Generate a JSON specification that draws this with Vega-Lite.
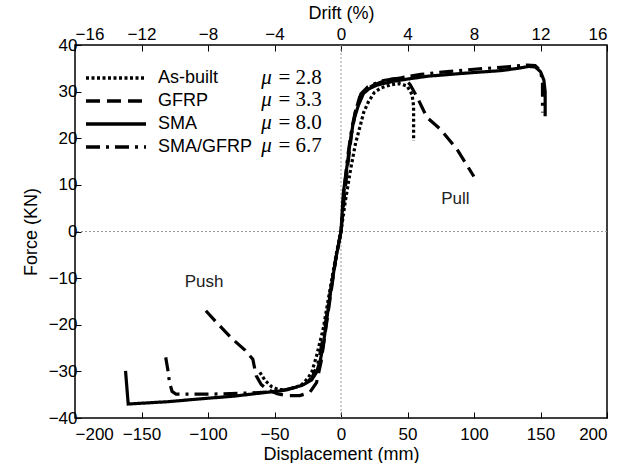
{
  "$schema": "https://vega.github.io/schema/vega-lite/v6.json",
  "width": 532,
  "height": 373,
  "autosize": {"type": "none"},
  "padding": {"left": 75, "top": 45, "right": 19, "bottom": 45},
  "background": "white",
  "config": {
    "font": "Liberation Sans",
    "view": {"stroke": "black", "strokeWidth": 1.5},
    "axis": {
      "grid": false,
      "domain": false,
      "tickColor": "black",
      "tickSize": -6,
      "tickWidth": 1,
      "labelFont": "Liberation Sans",
      "labelFontSize": 17,
      "labelColor": "black",
      "titleFont": "Liberation Sans",
      "titleFontSize": 18,
      "titleFontWeight": "normal",
      "titleColor": "black"
    },
    "legend": {
      "orient": "none",
      "legendX": 32,
      "legendY": 24,
      "title": null,
      "symbolType": "M-5,0H5",
      "symbolSize": 144,
      "symbolStrokeWidth": 3.5,
      "symbolStrokeColor": "black",
      "labelFont": "Liberation Sans",
      "labelFontSize": 18,
      "labelColor": "black",
      "labelOffset": 33,
      "rowPadding": 5,
      "padding": 0
    }
  },
  "datasets": {
    "curves": [
      {"s": "SMA", "i": 1, "d": -162, "f": -29.9},
      {"s": "SMA", "i": 2, "d": -160, "f": -37.0},
      {"s": "SMA", "i": 3, "d": -130, "f": -36.5},
      {"s": "SMA", "i": 4, "d": -106, "f": -35.9},
      {"s": "SMA", "i": 5, "d": -80, "f": -35.3},
      {"s": "SMA", "i": 6, "d": -56, "f": -34.5},
      {"s": "SMA", "i": 7, "d": -46, "f": -34.2},
      {"s": "SMA", "i": 8, "d": -35, "f": -33.5},
      {"s": "SMA", "i": 9, "d": -28.5, "f": -32.9},
      {"s": "SMA", "i": 10, "d": -22, "f": -31.8},
      {"s": "SMA", "i": 11, "d": -18.4, "f": -30.2},
      {"s": "SMA", "i": 12, "d": -15.5, "f": -27.5},
      {"s": "SMA", "i": 13, "d": -13.4, "f": -24.5},
      {"s": "SMA", "i": 14, "d": -8.3, "f": -13.8},
      {"s": "SMA", "i": 15, "d": -4, "f": -6},
      {"s": "SMA", "i": 16, "d": 0, "f": 0},
      {"s": "SMA", "i": 17, "d": 1.8, "f": 8.4},
      {"s": "SMA", "i": 18, "d": 4.5, "f": 14},
      {"s": "SMA", "i": 19, "d": 6.8, "f": 19},
      {"s": "SMA", "i": 20, "d": 9, "f": 23},
      {"s": "SMA", "i": 21, "d": 10.6, "f": 24.8},
      {"s": "SMA", "i": 22, "d": 13, "f": 27},
      {"s": "SMA", "i": 23, "d": 16.9, "f": 29.6},
      {"s": "SMA", "i": 24, "d": 21, "f": 30.6},
      {"s": "SMA", "i": 25, "d": 27, "f": 31.4},
      {"s": "SMA", "i": 26, "d": 39, "f": 32.2},
      {"s": "SMA", "i": 27, "d": 50, "f": 32.7},
      {"s": "SMA", "i": 28, "d": 65, "f": 33.3},
      {"s": "SMA", "i": 29, "d": 82, "f": 33.7},
      {"s": "SMA", "i": 30, "d": 100, "f": 34.1},
      {"s": "SMA", "i": 31, "d": 120, "f": 34.5},
      {"s": "SMA", "i": 32, "d": 133, "f": 35.0},
      {"s": "SMA", "i": 33, "d": 141, "f": 35.4},
      {"s": "SMA", "i": 34, "d": 146, "f": 35.3},
      {"s": "SMA", "i": 35, "d": 150, "f": 34.3},
      {"s": "SMA", "i": 36, "d": 152.5, "f": 32.5},
      {"s": "SMA", "i": 37, "d": 153.5, "f": 30},
      {"s": "SMA", "i": 38, "d": 153.5, "f": 24.7},

      {"s": "SMA/GFRP", "i": 1, "d": -131.8, "f": -27},
      {"s": "SMA/GFRP", "i": 2, "d": -130, "f": -30},
      {"s": "SMA/GFRP", "i": 3, "d": -129, "f": -32.3},
      {"s": "SMA/GFRP", "i": 4, "d": -127, "f": -34.3},
      {"s": "SMA/GFRP", "i": 5, "d": -124, "f": -34.9},
      {"s": "SMA/GFRP", "i": 6, "d": -100, "f": -34.9},
      {"s": "SMA/GFRP", "i": 7, "d": -75, "f": -34.7},
      {"s": "SMA/GFRP", "i": 8, "d": -51, "f": -34.4},
      {"s": "SMA/GFRP", "i": 9, "d": -40, "f": -33.9},
      {"s": "SMA/GFRP", "i": 10, "d": -30, "f": -33},
      {"s": "SMA/GFRP", "i": 11, "d": -22, "f": -31.5},
      {"s": "SMA/GFRP", "i": 12, "d": -17, "f": -28},
      {"s": "SMA/GFRP", "i": 13, "d": -13, "f": -22},
      {"s": "SMA/GFRP", "i": 14, "d": -8, "f": -13},
      {"s": "SMA/GFRP", "i": 15, "d": -4, "f": -6},
      {"s": "SMA/GFRP", "i": 16, "d": 0, "f": 0},
      {"s": "SMA/GFRP", "i": 17, "d": 2, "f": 8},
      {"s": "SMA/GFRP", "i": 18, "d": 5, "f": 16},
      {"s": "SMA/GFRP", "i": 19, "d": 8, "f": 22},
      {"s": "SMA/GFRP", "i": 20, "d": 11, "f": 26},
      {"s": "SMA/GFRP", "i": 21, "d": 15, "f": 29.5},
      {"s": "SMA/GFRP", "i": 22, "d": 20, "f": 31},
      {"s": "SMA/GFRP", "i": 23, "d": 30, "f": 32.3},
      {"s": "SMA/GFRP", "i": 24, "d": 45, "f": 33.0},
      {"s": "SMA/GFRP", "i": 25, "d": 60, "f": 33.7},
      {"s": "SMA/GFRP", "i": 26, "d": 80, "f": 34.3},
      {"s": "SMA/GFRP", "i": 27, "d": 100, "f": 34.8},
      {"s": "SMA/GFRP", "i": 28, "d": 120, "f": 35.2},
      {"s": "SMA/GFRP", "i": 29, "d": 140, "f": 35.7},
      {"s": "SMA/GFRP", "i": 30, "d": 146, "f": 35.6},
      {"s": "SMA/GFRP", "i": 31, "d": 150, "f": 34.5},
      {"s": "SMA/GFRP", "i": 32, "d": 151.5, "f": 32},
      {"s": "SMA/GFRP", "i": 33, "d": 151.5, "f": 28},
      {"s": "SMA/GFRP", "i": 34, "d": 151.5, "f": 25.5},

      {"s": "As-built", "i": 1, "d": -61, "f": -30.2},
      {"s": "As-built", "i": 2, "d": -57, "f": -32},
      {"s": "As-built", "i": 3, "d": -52, "f": -33.3},
      {"s": "As-built", "i": 4, "d": -47, "f": -33.9},
      {"s": "As-built", "i": 5, "d": -40, "f": -33.9},
      {"s": "As-built", "i": 6, "d": -30, "f": -33.0},
      {"s": "As-built", "i": 7, "d": -25, "f": -31.5},
      {"s": "As-built", "i": 8, "d": -22, "f": -30.2},
      {"s": "As-built", "i": 9, "d": -18.4, "f": -26.7},
      {"s": "As-built", "i": 10, "d": -13.4, "f": -20.9},
      {"s": "As-built", "i": 11, "d": -8, "f": -12},
      {"s": "As-built", "i": 12, "d": -3, "f": -4},
      {"s": "As-built", "i": 13, "d": 0, "f": 0},
      {"s": "As-built", "i": 14, "d": 3, "f": 6},
      {"s": "As-built", "i": 15, "d": 7, "f": 13},
      {"s": "As-built", "i": 16, "d": 11, "f": 19},
      {"s": "As-built", "i": 17, "d": 14.4, "f": 22.6},
      {"s": "As-built", "i": 18, "d": 17, "f": 25.5},
      {"s": "As-built", "i": 19, "d": 20.4, "f": 27.7},
      {"s": "As-built", "i": 20, "d": 25, "f": 29.8},
      {"s": "As-built", "i": 21, "d": 30, "f": 30.8},
      {"s": "As-built", "i": 22, "d": 38, "f": 31.5},
      {"s": "As-built", "i": 23, "d": 44, "f": 31.7},
      {"s": "As-built", "i": 24, "d": 49.7, "f": 31.2},
      {"s": "As-built", "i": 25, "d": 53.4, "f": 29.4},
      {"s": "As-built", "i": 26, "d": 54.6, "f": 26.9},
      {"s": "As-built", "i": 27, "d": 54.6, "f": 19.4},

      {"s": "GFRP", "i": 1, "d": -101.6, "f": -17},
      {"s": "GFRP", "i": 2, "d": -92, "f": -20},
      {"s": "GFRP", "i": 3, "d": -81.5, "f": -23.1},
      {"s": "GFRP", "i": 4, "d": -72, "f": -25.5},
      {"s": "GFRP", "i": 5, "d": -66.3, "f": -27.4},
      {"s": "GFRP", "i": 6, "d": -63.8, "f": -30.9},
      {"s": "GFRP", "i": 7, "d": -60, "f": -32.8},
      {"s": "GFRP", "i": 8, "d": -56, "f": -33.8},
      {"s": "GFRP", "i": 9, "d": -48, "f": -34.8},
      {"s": "GFRP", "i": 10, "d": -41, "f": -35.2},
      {"s": "GFRP", "i": 11, "d": -31, "f": -35.2},
      {"s": "GFRP", "i": 12, "d": -23.4, "f": -34.5},
      {"s": "GFRP", "i": 13, "d": -18.4, "f": -32.4},
      {"s": "GFRP", "i": 14, "d": -15, "f": -28},
      {"s": "GFRP", "i": 15, "d": -12, "f": -22},
      {"s": "GFRP", "i": 16, "d": -8, "f": -14},
      {"s": "GFRP", "i": 17, "d": -4, "f": -6},
      {"s": "GFRP", "i": 18, "d": 0, "f": 0},
      {"s": "GFRP", "i": 19, "d": 2, "f": 6},
      {"s": "GFRP", "i": 20, "d": 5, "f": 14},
      {"s": "GFRP", "i": 21, "d": 8, "f": 21},
      {"s": "GFRP", "i": 22, "d": 11, "f": 26},
      {"s": "GFRP", "i": 23, "d": 14, "f": 28.8},
      {"s": "GFRP", "i": 24, "d": 18, "f": 30.3},
      {"s": "GFRP", "i": 25, "d": 25, "f": 31.5},
      {"s": "GFRP", "i": 26, "d": 35, "f": 32.5},
      {"s": "GFRP", "i": 27, "d": 47, "f": 33.0},
      {"s": "GFRP", "i": 28, "d": 52, "f": 31.5},
      {"s": "GFRP", "i": 29, "d": 57.3, "f": 28.8},
      {"s": "GFRP", "i": 30, "d": 61, "f": 26.6},
      {"s": "GFRP", "i": 31, "d": 64.6, "f": 24.5},
      {"s": "GFRP", "i": 32, "d": 74.9, "f": 21.9},
      {"s": "GFRP", "i": 33, "d": 87.3, "f": 17.6},
      {"s": "GFRP", "i": 34, "d": 93, "f": 15},
      {"s": "GFRP", "i": 35, "d": 99.9, "f": 11.8}
    ],
    "mu": [
      {"mx": -60, "ex": -47, "y": 33.0, "t": "= 2.8"},
      {"mx": -60, "ex": -47, "y": 28.1, "t": "= 3.3"},
      {"mx": -60, "ex": -47, "y": 23.2, "t": "= 8.0"},
      {"mx": -60, "ex": -47, "y": 18.3, "t": "= 6.7"}
    ],
    "notes": [
      {"x": 86, "y": 6.9, "t": "Pull"},
      {"x": -103, "y": -10.8, "t": "Push"}
    ],
    "zero": [{"v": 0}]
  },
  "layer": [
    {
      "data": {"name": "zero"},
      "mark": {"type": "rule", "color": "#999999", "strokeWidth": 1, "strokeDash": [2, 2]},
      "encoding": {
        "x": {
          "field": "v", "type": "quantitative",
          "scale": {"domain": [-200, 200], "nice": false},
          "axis": {
            "orient": "top",
            "values": [-200, -150, -100, -50, 0, 50, 100, 150, 200],
            "labelExpr": "format(datum.value / 12.5, 'd')",
            "title": "Drift (%)",
            "labelPadding": 8,
            "titlePadding": 3
          }
        }
      }
    },
    {
      "data": {"name": "zero"},
      "mark": {"type": "rule", "color": "#999999", "strokeWidth": 1, "strokeDash": [2, 2]},
      "encoding": {
        "y": {"field": "v", "type": "quantitative", "scale": {"domain": [-40, 40], "nice": false}}
      }
    },
    {
      "data": {"name": "curves"},
      "mark": {"type": "line", "color": "black", "strokeWidth": 3.2},
      "encoding": {
        "x": {
          "field": "d", "type": "quantitative",
          "scale": {"domain": [-200, 200], "nice": false},
          "axis": {
            "orient": "bottom",
            "values": [-200, -150, -100, -50, 0, 50, 100, 150, 200],
            "title": "Displacement (mm)",
            "labelPadding": 14,
            "titlePadding": 3
          }
        },
        "y": {
          "field": "f", "type": "quantitative",
          "scale": {"domain": [-40, 40], "nice": false},
          "axis": {
            "values": [-40, -30, -20, -10, 0, 10, 20, 30, 40],
            "title": "Force (KN)",
            "labelPadding": 4,
            "titlePadding": 8
          }
        },
        "strokeDash": {
          "field": "s", "type": "nominal",
          "scale": {
            "domain": ["As-built", "GFRP", "SMA", "SMA/GFRP"],
            "range": [[3, 2.5], [14, 7], [1, 0], [14, 6, 3, 6]]
          },
          "legend": {}
        },
        "order": {"field": "i", "type": "quantitative"}
      }
    },
    {
      "data": {"name": "mu"},
      "mark": {"type": "text", "font": "Liberation Serif", "fontSize": 21, "fontStyle": "italic", "align": "left", "baseline": "middle", "color": "black"},
      "encoding": {
        "x": {"field": "mx", "type": "quantitative", "axis": null},
        "y": {"field": "y", "type": "quantitative"},
        "text": {"value": "μ"}
      }
    },
    {
      "data": {"name": "mu"},
      "mark": {"type": "text", "font": "Liberation Serif", "fontSize": 21, "align": "left", "baseline": "middle", "color": "black"},
      "encoding": {
        "x": {"field": "ex", "type": "quantitative", "axis": null},
        "y": {"field": "y", "type": "quantitative"},
        "text": {"field": "t"}
      }
    },
    {
      "data": {"name": "notes"},
      "mark": {"type": "text", "font": "Liberation Sans", "fontSize": 17, "align": "center", "baseline": "middle", "color": "#222222"},
      "encoding": {
        "x": {"field": "x", "type": "quantitative", "axis": null},
        "y": {"field": "y", "type": "quantitative"},
        "text": {"field": "t"}
      }
    }
  ],
  "resolve": {"axis": {"x": "independent"}}
}
